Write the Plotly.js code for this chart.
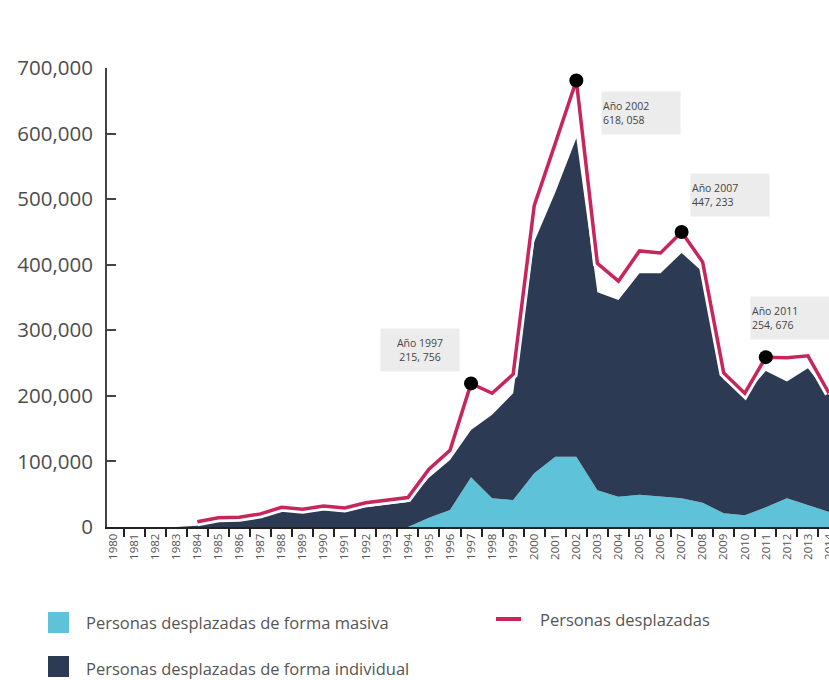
<!DOCTYPE html>
<html>
<head>
<meta charset="utf-8">
<script src="https://cdn.plot.ly/plotly-3.0.1.min.js"></script>
<style>html,body{margin:0;padding:0;background:#fff;}#chart{width:829px;height:680px;}</style>
</head>
<body>
<div id="chart"></div>
<script>
// Years (categories)
const years = ['1980','1981','1982','1983','1984','1985','1986','1987','1988','1989','1990','1991','1992','1993','1994','1995','1996','1997','1998','1999','2000','2001','2002','2003','2004','2005','2006','2007','2008','2009','2010','2011','2012','2013','2014'];

// Personas desplazadas de forma masiva
const masiva = [0,0,0,0,0,0,0,0,0,0,0,0,0,0,0,14000,26000,76000,44000,41000,82000,107000,107000,56000,46000,49000,47000,44000,37000,21000,18000,30000,44000,34000,23000];

// Personas desplazadas de forma individual
const individual = [0,0,0,0,2000,10000,12000,16000,24000,22000,26000,23000,30000,34000,38000,61000,76000,72000,127000,163000,353000,403000,486000,302000,300000,338000,340000,374000,352000,204000,183000,208000,178000,208000,178000];

// Personas desplazadas (total line)
const total = [null,null,null,null,8000,14000,15000,20000,30000,27000,32000,29000,37000,41000,45000,88000,117000,219000,204000,233000,490000,585000,681000,402000,375000,421000,418000,450000,404000,235000,204000,259000,258000,261000,204000];

// Highlighted years and their labels
const highlightYears = ['1997','2002','2007','2011'];
const highlightLabels = ['Año 1997<br>215, 756','Año 2002<br>618, 058','Año 2007<br>447, 233','Año 2011<br>254, 676'];

// Legend labels
const legendNames = ['Personas desplazadas de forma masiva','Personas desplazadas de forma individual','Personas desplazadas'];

const cCyan = '#5ec3d8', cNavy = '#2c3a53', cPink = '#c8255d';

const highlightY = highlightYears.map(y => total[years.indexOf(y)]);

const traces = [
  {x: years, y: masiva, type:'scatter', mode:'lines', stackgroup:'a', fillcolor:cCyan, line:{width:0,color:cCyan}, name:legendNames[0], showlegend:false, hoverinfo:'skip'},
  {x: years, y: individual, type:'scatter', mode:'lines', stackgroup:'a', fillcolor:cNavy, line:{width:0,color:cNavy}, name:legendNames[1], showlegend:false, hoverinfo:'skip'},
  {x: years, y: total, type:'scatter', mode:'lines', line:{width:9,color:'#ffffff'}, showlegend:false, hoverinfo:'skip'},
  {x: years, y: total, type:'scatter', mode:'lines', line:{width:3.5,color:cPink}, name:legendNames[2], showlegend:false, hoverinfo:'skip'},
  {x: highlightYears, y: highlightY, type:'scatter', mode:'markers', marker:{size:14,color:'#000'}, showlegend:false, hoverinfo:'skip'}
];

// annotation box placement (category index, value)
const annPos = [[14.58,270000,'center'],[25.05,632000,'left'],[29.3,506000,'left'],[32.16,318000,'left']];
const annotations = highlightLabels.map((t,i)=>({
  x: annPos[i][0], y: annPos[i][1], xref:'x', yref:'y', text:t, showarrow:false,
  align: annPos[i][2], bgcolor:'#ececec', width:76, height:40,
  font:{family:'Open Sans, sans-serif', size:10.5, color:'#444'}
}));

// manual legend (paper coords)
const px = v => (v-107)/722;
const py = v => (527-v)/459;
const shapes = [
  {type:'rect', xref:'paper', yref:'paper', x0:px(48), x1:px(69), y0:py(633), y1:py(612), fillcolor:cCyan, line:{width:0}},
  {type:'rect', xref:'paper', yref:'paper', x0:px(48), x1:px(69), y0:py(677), y1:py(656), fillcolor:cNavy, line:{width:0}},
  {type:'line', xref:'paper', yref:'paper', x0:px(496), x1:px(521), y0:py(619), y1:py(619), line:{width:4,color:cPink}}
];
const legAnn = [[84,622,legendNames[0]],[84,668,legendNames[1]],[538,619,legendNames[2]]].map(a=>({
  x:px(a[0]), y:py(a[1]), xref:'paper', yref:'paper', xanchor:'left', yanchor:'middle', showarrow:false,
  text:a[2], font:{family:'Open Sans, sans-serif', size:16.5, color:'#555'}
}));

const layout = {
  width:829, height:680,
  margin:{l:107, r:0, t:68, b:153},
  paper_bgcolor:'#fff', plot_bgcolor:'#fff',
  showlegend:false,
  xaxis:{type:'category', range:[-0.29,34], tickson:'boundaries', ticks:'outside', ticklen:8, tickwidth:2, tickcolor:'#222',
    showline:true, linecolor:'#222', linewidth:2, showgrid:false, zeroline:false, tickangle:-90,
    tickfont:{family:'Open Sans, sans-serif', size:11.5, color:'#555'}, fixedrange:true},
  yaxis:{range:[0,700000], tickvals:[0,100000,200000,300000,400000,500000,600000,700000], ticktext:['0','100,000','200,000','300,000','400,000','500,000','600,000','700,000'],
    ticks:'inside', ticklen:9, tickwidth:2, tickcolor:'#444', showline:true, linecolor:'#444', linewidth:2, showgrid:false, zeroline:false,
    tickfont:{family:'Open Sans, sans-serif', size:20.5, color:'#4d4d4d'}, ticklabelstandoff:8, fixedrange:true},
  annotations: annotations.concat(legAnn),
  shapes: shapes
};

Plotly.newPlot('chart', traces, layout, {displayModeBar:false, staticPlot:true});
</script>
</body>
</html>
